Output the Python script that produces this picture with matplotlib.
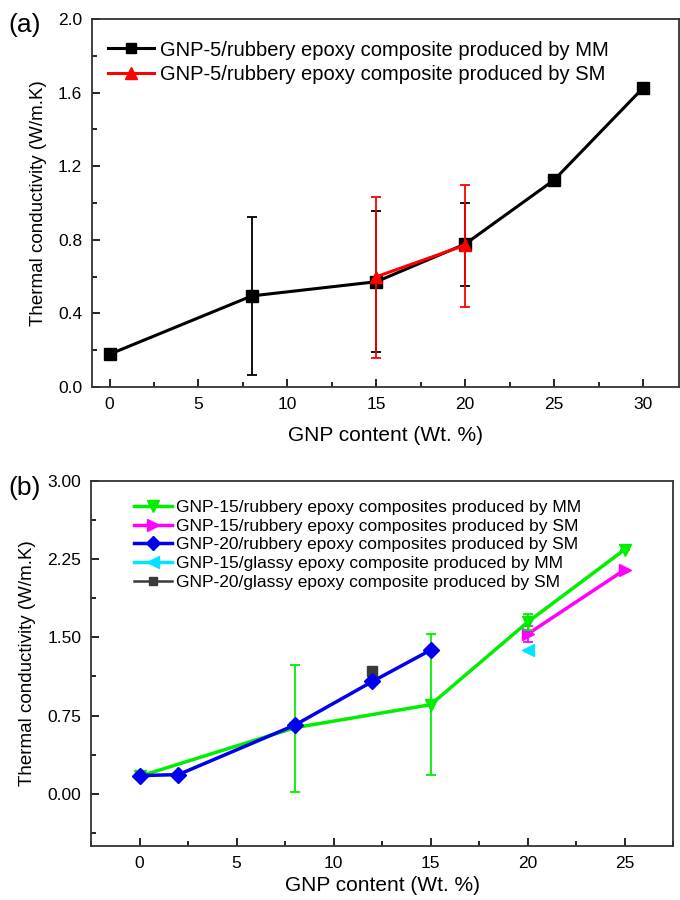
import matplotlib as m
m.use("Agg")
import matplotlib.pyplot as plt
from matplotlib.lines import Line2D
from matplotlib.ticker import MultipleLocator

plt.rcParams['font.family'] = ['Liberation Sans', 'DejaVu Sans']

# (a) GNP-5 / rubbery epoxy
a_mm_x = [0, 8, 15, 20, 25, 30]
a_mm_y = [0.178, 0.495, 0.572, 0.777, 1.125, 1.625]
a_mm_lo = [0, 0.43, 0.383, 0.227, 0, 0]
a_mm_hi = [0, 0.429, 0.386, 0.221, 0, 0]
a_sm_x = [15, 20]
a_sm_y = [0.599, 0.771]
a_sm_lo = [0.441, 0.335]
a_sm_hi = [0.432, 0.329]
a_labels = ['GNP-5/rubbery epoxy composite produced by MM',
            'GNP-5/rubbery epoxy composite produced by SM']

# (b)
b_g15_mm_x = [0, 8, 15, 20, 25]
b_g15_mm_y = [0.168, 0.633, 0.854, 1.645, 2.34]
b_g15_mm_lo = [0, 0.617, 0.67, 0.075, 0]
b_g15_mm_hi = [0, 0.601, 0.678, 0.075, 0]
b_g15_sm_x = [20, 25]
b_g15_sm_y = [1.53, 2.146]
b_g15_sm_lo = [0.072, 0]
b_g15_sm_hi = [0.076, 0]
b_g20_sm_x = [0, 2, 8, 12, 15]
b_g20_sm_y = [0.174, 0.184, 0.658, 1.076, 1.377]
b_g15_glassy_x = [20]
b_g15_glassy_y = [1.375]
b_g20_glassy_x = [12]
b_g20_glassy_y = [1.174]
b_labels = ['GNP-15/rubbery epoxy composites produced by MM',
            'GNP-15/rubbery epoxy composites produced by SM',
            'GNP-20/rubbery epoxy composites produced by SM',
            'GNP-15/glassy epoxy composite produced by MM',
            'GNP-20/glassy epoxy composite produced by SM']

fig = plt.figure(figsize=(6.8, 9), dpi=100)
ax1 = fig.add_axes([0.135, 0.570, 0.863, 0.409])
ax2 = fig.add_axes([0.134, 0.060, 0.856, 0.406])

def style(ax):
  ax.tick_params(which='both', direction='in', top=False, right=False, labelsize=12.5, pad=7)
  ax.tick_params(which='major', length=6, width=1.2)
  ax.tick_params(which='minor', length=3.5, width=1.2)
  for s in ax.spines.values():
    s.set_linewidth(1.3)
    s.set_color('#333333')

# panel (a)
ax1.errorbar(a_mm_x, a_mm_y, yerr=[a_mm_lo, a_mm_hi], color='black', marker='s', ms=8,
             lw=2.2, elinewidth=1.3, capsize=3.5, capthick=1.3, zorder=2)
ax1.errorbar(a_sm_x, a_sm_y, yerr=[a_sm_lo, a_sm_hi], color='red', marker='^', ms=9,
             lw=2.2, elinewidth=1.3, capsize=3.5, capthick=1.3, zorder=3)
ax1.set_xlim(-1, 32)
ax1.set_ylim(0, 2.0)
ax1.xaxis.set_major_locator(MultipleLocator(5))
ax1.xaxis.set_minor_locator(MultipleLocator(2.5))
ax1.set_yticks([0, 0.4, 0.8, 1.2, 1.6, 2.0])
ax1.set_yticklabels(['0.0', '0.4', '0.8', '1.2', '1.6', '2.0'])
ax1.yaxis.set_minor_locator(MultipleLocator(0.2))
style(ax1)
ax1.set_xlabel('GNP content (Wt. %)', fontsize=15, labelpad=10)
ax1.set_ylabel('Thermal conductivity (W/m.K)', fontsize=13.5, labelpad=8)
a_handles = [Line2D([], [], color='black', marker='s', ms=7, lw=2.2),
             Line2D([], [], color='red', marker='^', ms=8, lw=2.2)]
ax1.legend(a_handles, a_labels, loc='upper left', bbox_to_anchor=(0.0, 0.985), frameon=False,
           fontsize=14.5, handlelength=2.3, handletextpad=0.3, labelspacing=0.25, borderaxespad=0.4)
fig.text(0.012, 0.972, '(a)', fontsize=19, va='center')

# panel (b)
ax2.errorbar(b_g15_mm_x, b_g15_mm_y, yerr=[b_g15_mm_lo, b_g15_mm_hi], color='#00ee00', marker='v', ms=9,
             lw=2.5, elinewidth=1.3, capsize=3.5, capthick=1.3, zorder=3)
ax2.errorbar(b_g15_sm_x, b_g15_sm_y, yerr=[b_g15_sm_lo, b_g15_sm_hi], color='#ff00ff', marker='>', ms=9,
             lw=2.5, elinewidth=1.3, capsize=3.5, capthick=1.3, zorder=2)
ax2.plot(b_g20_sm_x, b_g20_sm_y, color='#0000ee', marker='D', ms=8, lw=2.5, zorder=4)
ax2.plot(b_g15_glassy_x, b_g15_glassy_y, color='#00e5ff', marker='<', ms=9, lw=0)
ax2.plot(b_g20_glassy_x, b_g20_glassy_y, color='#3a3a3a', marker='s', ms=7, lw=0)
ax2.set_xlim(-2.5, 27.5)
ax2.set_ylim(-0.5, 3.0)
ax2.xaxis.set_major_locator(MultipleLocator(5))
ax2.xaxis.set_minor_locator(MultipleLocator(2.5))
ax2.set_yticks([0, 0.75, 1.5, 2.25, 3.0])
ax2.set_yticklabels(['0.00', '0.75', '1.50', '2.25', '3.00'])
ax2.yaxis.set_minor_locator(MultipleLocator(0.375))
style(ax2)
ax2.set_xlabel('GNP content (Wt. %)', fontsize=15, labelpad=4)
ax2.set_ylabel('Thermal conductivity (W/m.K)', fontsize=13.5, labelpad=8)
b_handles = [Line2D([], [], color='#00ee00', marker='v', ms=9, lw=2.5),
             Line2D([], [], color='#ff00ff', marker='>', ms=9, lw=2.5),
             Line2D([], [], color='#0000ee', marker='D', ms=7, lw=2.5),
             Line2D([], [], color='#00e5ff', marker='<', ms=9, lw=2.5),
             Line2D([], [], color='#3a3a3a', marker='s', ms=6, lw=1.8)]
ax2.legend(b_handles, b_labels, loc='upper left', bbox_to_anchor=(0.05, 0.985), frameon=False,
           fontsize=12.5, handlelength=2.2, handletextpad=0.2, labelspacing=0.2, borderaxespad=0.4)
fig.text(0.012, 0.458, '(b)', fontsize=19, va='center')

fig.savefig('out.png', dpi=100)
